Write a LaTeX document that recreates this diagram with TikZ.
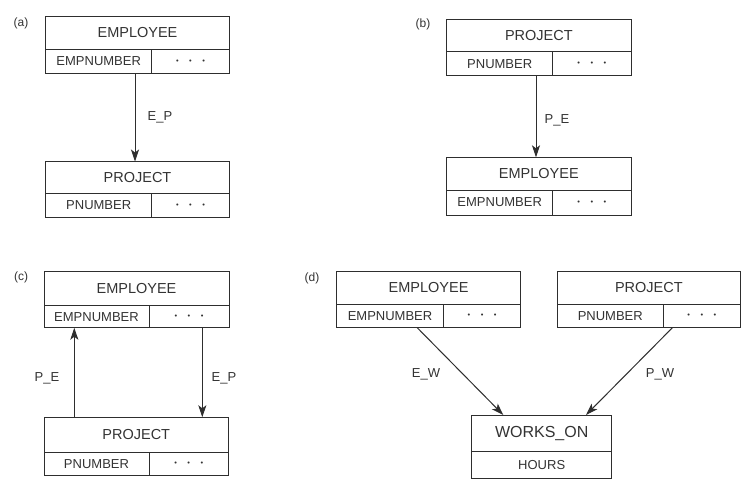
\documentclass[tikz,border=0pt]{standalone}
\usepackage{fontspec}
\setmainfont{Liberation Sans}
\usetikzlibrary{arrows.meta}
\definecolor{lnc}{HTML}{2E2E2E}
\definecolor{txc}{HTML}{333333}
\newcommand\dotsx{{\fontsize{7.5}{9}\selectfont •\hspace{10.5pt}•\hspace{10.5pt}•}}
% #1 name, #2 L, #3 T, #4 R, #5 V, #6 D, #7 B, #8 title, #9 key
\newcommand\erbox[9]{%
  \node[titlecell, minimum width=#4pt-#2pt, minimum height=#6pt-#3pt, anchor=north west] (#1) at (#2,#3) {#8};
  \node[keycell, minimum width=#5pt-#2pt, minimum height=#7pt-#6pt, anchor=north west] (#1k) at (#2,#6) {#9};
  \node[keycell, minimum width=#4pt-#5pt, minimum height=#7pt-#6pt, anchor=north west] (#1d) at (#5,#6) {\dotsx};
}
\begin{document}
\begin{tikzpicture}[x=1pt,y=-1pt,
  cell/.style={draw=lnc, line width=1pt, inner sep=0pt, outer sep=0pt, text=txc},
  titlecell/.style={cell, font=\fontsize{14.5}{16}\selectfont},
  keycell/.style={cell, font=\fontsize{13}{15}\selectfont},
  arr/.style={draw=lnc, line width=1pt, -{Stealth[length=12pt,width=8pt,inset=3pt]}},
  lab/.style={text=txc, font=\fontsize{13}{15}\selectfont, inner sep=0pt},
  plab/.style={text=txc, font=\fontsize{12}{14}\selectfont, inner sep=0pt}]
\useasboundingbox[fill=white] (0,0) rectangle (750,483);

% (a)
\node[plab] (pa) at (21,23) {(a)};
\erbox{aE}{45.7}{16.7}{229.3}{151.7}{49.3}{73.3}{EMPLOYEE}{EMPNUMBER}
\erbox{aP}{45.7}{161.5}{229.3}{151.7}{193.3}{217.7}{PROJECT}{PNUMBER}
\coordinate (xa) at (135,0);
\draw[arr] (aEk.south -| xa) -- (aP.north -| xa);
\node[lab] (lab1) at (160,117) {E\_P};

% (b)
\node[plab] (pb) at (423,24) {(b)};
\erbox{bP}{446.7}{19}{631}{552.7}{51.7}{75.7}{PROJECT}{PNUMBER}
\erbox{bE}{446.7}{157.3}{631}{552.7}{190}{215}{EMPLOYEE}{EMPNUMBER}
\coordinate (xb) at (536,0);
\draw[arr] (bPk.south -| xb) -- (bE.north -| xb);
\node[lab] (lab2) at (557,120) {P\_E};

% (c)
\node[plab] (pc) at (21,277) {(c)};
\erbox{cE}{44}{271}{229}{149}{305.7}{327.7}{EMPLOYEE}{EMPNUMBER}
\erbox{cP}{44}{417.3}{228.5}{149}{452.3}{475}{PROJECT}{PNUMBER}
\coordinate (xc1) at (74.3,0);
\coordinate (xc2) at (202.3,0);
\draw[arr] (cP.north -| xc1) -- (cEk.south -| xc1);
\draw[arr] (cEd.south -| xc2) -- (cP.north -| xc2);
\node[lab] (lab3) at (47,378) {P\_E};
\node[lab] (lab4) at (224,378) {E\_P};

% (d)
\node[plab] (pd) at (312,278) {(d)};
\erbox{dE}{336.5}{271.5}{520.7}{443.5}{304.5}{327.8}{EMPLOYEE}{EMPNUMBER}
\erbox{dP}{557.3}{271.5}{740.5}{663.3}{304.5}{327.8}{PROJECT}{PNUMBER}
\node[cell, font=\fontsize{16}{18}\selectfont, minimum width=140pt, minimum height=36pt, anchor=north west] (wo) at (471.7,415) {WORKS\_ON};
\node[keycell, minimum width=140pt, minimum height=27.7pt, anchor=north west] (wok) at (471.7,451) {HOURS};
\coordinate (xd1) at (417.3,0);
\coordinate (xd2) at (503.3,0);
\coordinate (xd3) at (672.3,0);
\coordinate (xd4) at (586,0);
\draw[arr] (dEk.south -| xd1) -- (wo.north -| xd2);
\draw[arr] (dPd.south -| xd3) -- (wo.north -| xd4);
\node[lab] (lab5) at (426,374) {E\_W};
\node[lab] (lab6) at (660,374) {P\_W};
\end{tikzpicture}
\end{document}
